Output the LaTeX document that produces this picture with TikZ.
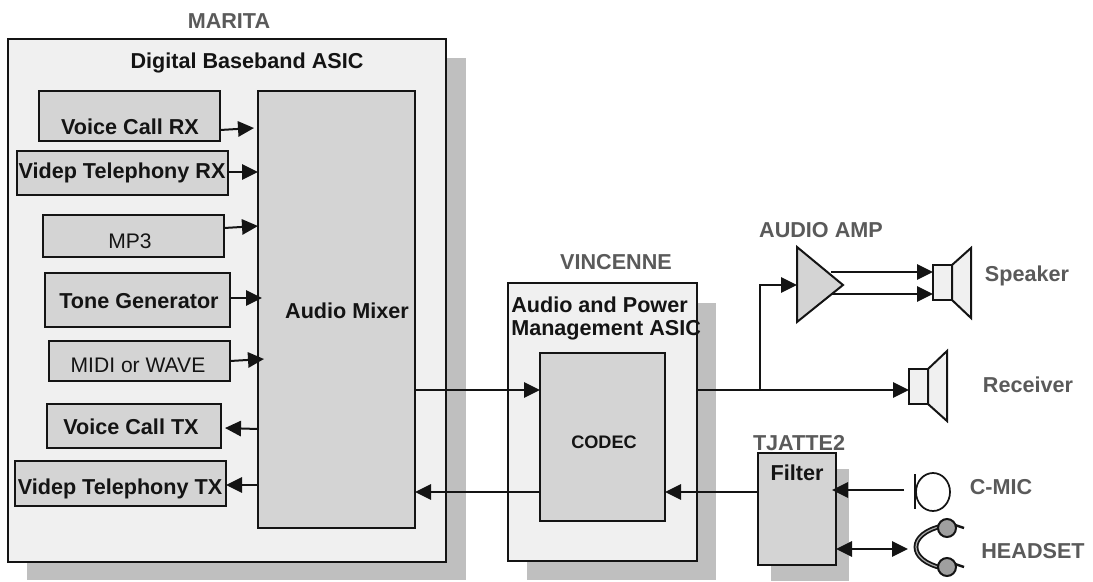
\documentclass[tikz,border=0pt]{standalone}
\usepackage{fontspec}
\setmainfont{Liberation Sans}
\usetikzlibrary{arrows.meta}
\definecolor{panel}{HTML}{F0F0F0}
\definecolor{blockc}{HTML}{D4D4D4}
\definecolor{shadowc}{HTML}{BFBFBF}
\definecolor{labelc}{HTML}{5A5A5A}
\definecolor{inkc}{HTML}{141414}
\tikzset{
  outline/.style={draw=inkc,line width=1.5pt},
  panelbox/.style={outline,fill=panel},
  blockbox/.style={outline,fill=blockc},
  shadowbox/.style={fill=shadowc},
  boxbase/.style={inner sep=0pt,outer sep=0pt},
  strong/.style={font=\fontsize{16.2pt}{18pt}\selectfont\bfseries,text=inkc,inner sep=0pt},
  plainlabel/.style={font=\fontsize{15.8pt}{18pt}\selectfont,text=inkc,inner sep=0pt},
  greylabel/.style={font=\fontsize{16.2pt}{18pt}\selectfont\bfseries,text=labelc,inner sep=0pt},
  conn/.style={draw=inkc,line width=1.5pt},
  arr/.style={conn,-{Triangle[length=12pt,width=11.5pt]}},
  biarr/.style={conn,{Triangle[length=12pt,width=11.5pt]}-{Triangle[length=12pt,width=11.5pt]}},
}
\newcommand{\bx}[6]{\node[boxbase,#6,minimum width={(#4-#2)*0.75pt},minimum height={(#5-#3)*0.75pt}] (#1) at ({(#2+#4)/2},{(#3+#5)/2}) {};}
\begin{document}
\begin{tikzpicture}[x=0.75pt,y=-0.75pt]
\useasboundingbox (0,0) rectangle (1093,582);
% shadows
\bx{maritash}{27}{58}{466}{580}{shadowbox}
\bx{vincsh}{527}{303}{716}{580}{shadowbox}
\bx{filtsh}{771}{469}{849}{581}{shadowbox}
% panels
\bx{marita}{8}{39}{446}{562}{panelbox}
\bx{vinc}{508}{283}{697}{561}{panelbox}
% blocks
\bx{mixer}{258}{91}{415}{528}{blockbox}
\bx{vcrx}{39}{91}{220}{141}{blockbox}
\bx{vtrx}{17}{151}{228}{195}{blockbox}
\bx{mp}{43}{215}{224}{257}{blockbox}
\bx{tone}{45}{273}{230}{327}{blockbox}
\bx{midi}{49}{341}{230}{381}{blockbox}
\bx{vctx}{47}{404}{221}{448}{blockbox}
\bx{vttx}{15}{461}{226}{506}{blockbox}
\bx{codec}{540}{353}{665}{521}{blockbox}
\bx{filt}{758}{453}{836}{565}{blockbox}
% connectors: sources to the mixer
\coordinate (e1) at (254,128);
\coordinate (e2) at (258,172);
\coordinate (e3) at (258,226);
\coordinate (e4) at (262,298);
\coordinate (e5) at (264,359);
\draw[arr] (vcrx.east |- 0,130) -- (e1);
\draw[arr] (vtrx.east |- 0,172) -- (e2);
\draw[arr] (mp.east |- 0,228) -- (e3);
\draw[arr] (tone.east |- 0,298) -- (e4);
\draw[arr] (midi.east |- 0,361) -- (e5);
\coordinate (e6) at (225,428);
\coordinate (e7) at (226,485);
\draw[arr] (mixer.west |- 0,429) -- (e6);
\draw[arr] (mixer.west |- 0,485) -- (e7);
% texts
\node[greylabel] (tmarita) at (229,21) {MARITA};
\node[strong] (tdb) at (247,63) {Digital Baseband ASIC};
\node[strong] (tvcrx) at (130,127) {Voice Call RX};
\node[strong] (tvtrx) at (122,173) {Videp Telephony RX};
\node[plainlabel] (tmp) at (130,241) {MP3};
\node[strong] (ttone) at (139,301) {Tone Generator};
\node[plainlabel] (tmidi) at (138,365) {MIDI or WAVE};
\node[strong] (tvctx) at (131,427) {Voice Call TX};
\node[strong] (tvttx) at (120,489) {Videp Telephony TX};
\node[strong] (tmixer) at (347,311) {Audio Mixer};
\node[greylabel] (tvinc) at (616,262) {VINCENNE};
\node[strong,anchor=west] (tap1) at (511,305) {Audio and Power};
\node[strong,anchor=west] (tap2) at (511,330) {Management ASIC};
\node[strong,font=\fontsize{13.6pt}{16pt}\selectfont\bfseries] (tcodec) at (604,442) {CODEC};
\node[greylabel] (tamp) at (821,230) {AUDIO AMP};
\node[greylabel] (tspk) at (1027,276) {Speaker};
\node[greylabel] (trcv) at (1028,385) {Receiver};
\node[greylabel] (ttj) at (799,443) {TJATTE2};
\node[strong] (tfilt) at (797,473) {Filter};
\node[greylabel] (tmic) at (1001,487) {C-MIC};
\node[greylabel] (ths) at (1033,551) {HEADSET};
% amplifier
\draw[outline,fill=blockc,line join=miter] (797,247) -- (843,285) -- (797,322) -- cycle;
\coordinate (ampin) at (797,285);
% speaker
\bx{spk}{933}{265}{952}{300}{panelbox}
\draw[outline,fill=panel] (spk.north east) -- (971,248) -- (971,318) -- (spk.south east) -- cycle;
% receiver
\bx{rcv}{909}{369}{928}{404}{panelbox}
\draw[outline,fill=panel] (rcv.north east) -- (947,351) -- (947,421) -- (rcv.south east) -- cycle;
% microphone
\draw[outline] (915,474) -- (915,509);
\draw[draw=inkc,line width=1.3pt] (933,492) ellipse [x radius=17,y radius=19];
% headset
\draw[draw=inkc,line width=3.6pt] (942,526) .. controls (925,530) and (916,538) .. (916,547) .. controls (916,556) and (925,564) .. (942,568);
\draw[draw=gray!70,line width=0.9pt] (942,526) .. controls (925,530) and (916,538) .. (916,547) .. controls (916,556) and (925,564) .. (942,568);
\draw[draw=inkc,line width=1.8pt] (952,524) -- (964,528);
\draw[draw=inkc,line width=1.8pt] (952,563) -- (964,567);
\draw[outline,fill=gray!75] (947,528) circle [radius=9];
\draw[outline,fill=gray!75] (947,567) circle [radius=9];
\coordinate (hsjack) at (908,549);
% mixer and codec
\draw[arr] (mixer.east |- 0,390) -- (codec.west |- 0,390);
\draw[arr] (codec.west |- 0,492) -- (mixer.east |- 0,492);
\draw[arr] (filt.west |- 0,492) -- (codec.east |- 0,492);
% outputs
\draw[arr] (vinc.east |- 0,390) -- (rcv.west |- 0,390);
\draw[arr] (760,390) -- (760,285) -- (ampin);
\coordinate (ao1) at (831,272);
\coordinate (ao2) at (831,294);
\draw[arr] (ao1) -- (spk.west |- 0,272);
\draw[arr] (ao2) -- (spk.west |- 0,294);
% inputs to the filter
\coordinate (fin) at (832,490);
\draw[arr] (904,490) -- (fin);
\draw[biarr] (filt.east |- 0,549) -- (hsjack);
\end{tikzpicture}
\end{document}
